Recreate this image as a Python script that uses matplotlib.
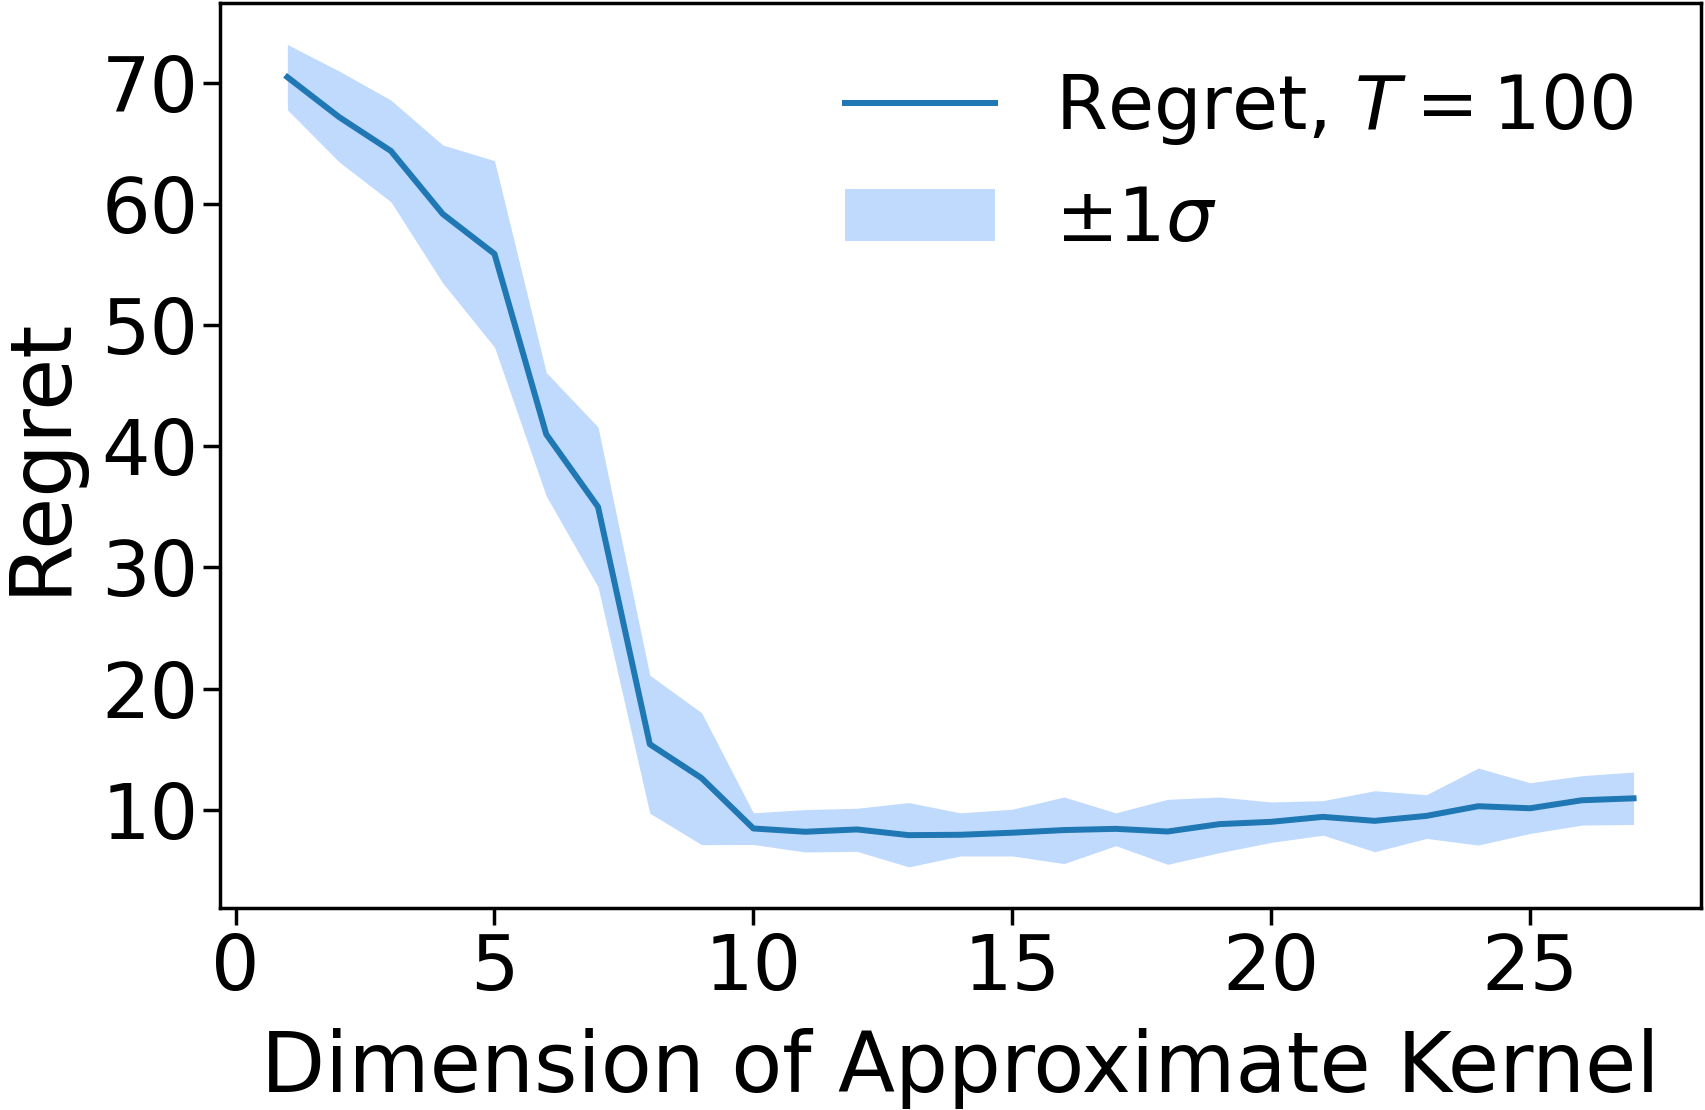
import numpy as np
import matplotlib
matplotlib.use("Agg")
import matplotlib.pyplot as plt

dims = list(range(1, 28))
regret = [70.5, 67.2, 64.4, 59.2, 55.9, 41.0, 35.0, 15.4, 12.6,
          8.44, 8.17, 8.36, 7.89, 7.92, 8.09, 8.31, 8.41, 8.19, 8.8,
          8.99, 9.4, 9.07, 9.48, 10.28, 10.11, 10.77, 10.93]
upper = [73.2, 71.0, 68.6, 64.9, 63.6, 46.1, 41.6, 21.1, 18.0,
         9.73, 10.0, 10.11, 10.58, 9.73, 10.03, 11.04, 9.73, 10.85, 11.04,
         10.63, 10.74, 11.56, 11.23, 13.43, 12.22, 12.8, 13.1]
lower = [67.8, 63.5, 60.2, 53.5, 48.2, 35.9, 28.4, 9.7, 7.1,
         7.12, 6.5, 6.55, 5.27, 6.17, 6.17, 5.54, 7.02, 5.48, 6.44,
         7.29, 7.89, 6.52, 7.62, 7.07, 8.03, 8.72, 8.77]

fig, ax = plt.subplots(figsize=(17.06, 11.1), dpi=100)
fig.subplots_adjust(left=0.129, right=0.997, top=0.997, bottom=0.182)

ax.plot(dims, regret, color="#1f77b4", lw=4.3, label="Regret, $T = 100$")
ax.fill_between(dims, lower, upper, color="#c0dafd", lw=0, label=r"$\pm 1\sigma$")

ax.set_xticks([0, 5, 10, 15, 20, 25])
ax.set_yticks([10, 20, 30, 40, 50, 60, 70])
ax.tick_params(labelsize=55, length=12, width=2.5)
ax.tick_params(axis="x", pad=5)
for s in ax.spines.values():
    s.set_linewidth(2.5)
ax.set_xlabel("Dimension of Approximate Kernel", fontsize=60, labelpad=16)
ax.set_ylabel("Regret", fontsize=61, labelpad=14)

ax.legend(loc="upper right", fontsize=54, frameon=False)

fig.savefig("out.png", dpi=100)
